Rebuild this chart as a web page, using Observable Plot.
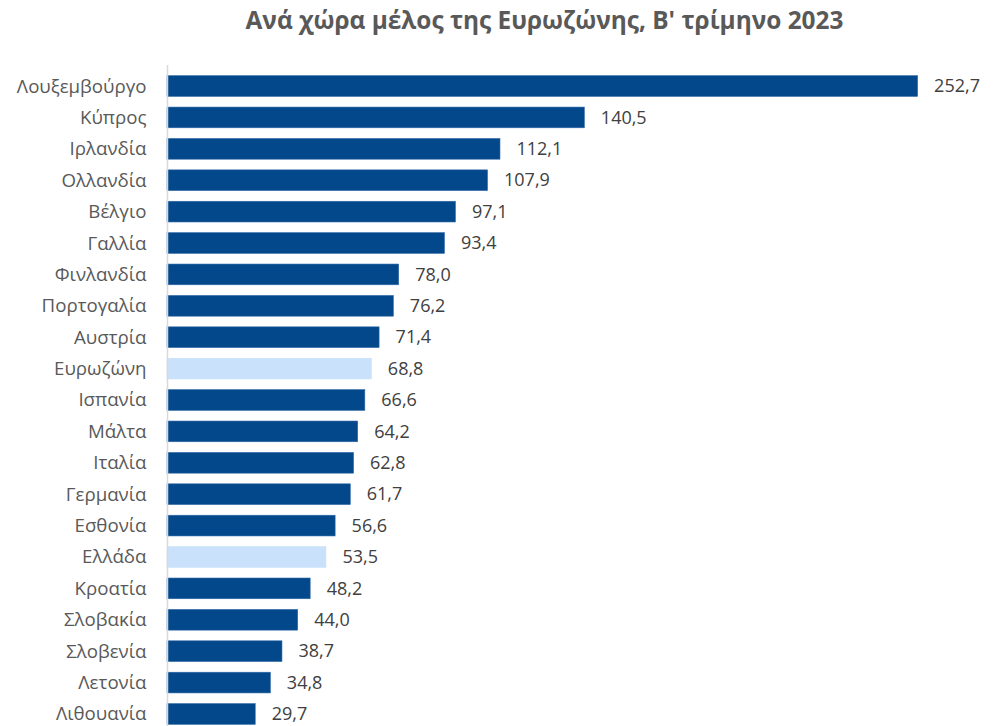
<!DOCTYPE html>
<html><head><meta charset="utf-8">
<script src="https://cdn.jsdelivr.net/npm/d3@7"></script>
<script src="https://cdn.jsdelivr.net/npm/@observablehq/plot@0.6"></script>
<style>
body{margin:0;background:#fff;overflow:hidden;}
#title{width:997px;height:50px;box-sizing:border-box;padding-top:5px;padding-left:92px;text-align:center;font-family:"Open Sans",sans-serif;font-weight:bold;font-size:24.4px;line-height:30px;color:#595959;}
</style></head>
<body>
<div id="title">Ανά χώρα μέλος της Ευρωζώνης, Β' τρίμηνο 2023</div>
<div id="chart"></div>
<script>
const countries = ["Λουξεμβούργο","Κύπρος","Ιρλανδία","Ολλανδία","Βέλγιο","Γαλλία","Φινλανδία","Πορτογαλία","Αυστρία","Ευρωζώνη","Ισπανία","Μάλτα","Ιταλία","Γερμανία","Εσθονία","Ελλάδα","Κροατία","Σλοβακία","Σλοβενία","Λετονία","Λιθουανία"];
const values = [252.7,140.5,112.1,107.9,97.1,93.4,78.0,76.2,71.4,68.8,66.6,64.2,62.8,61.7,56.6,53.5,48.2,44.0,38.7,34.8,29.7];
const highlighted = ["Ευρωζώνη","Ελλάδα"];
const data = countries.map((c,i)=>({country:c, value:values[i], hl: highlighted.includes(c)}));
const fmt = v => v.toFixed(1).replace(".", ",");
const chart = Plot.plot({
  width: 997,
  height: 685,
  marginTop: 15,
  marginBottom: 0,
  marginLeft: 167,
  marginRight: 28,
  style: {fontFamily: "'Open Sans', sans-serif", background: "#fff"},
  x: {domain: [0, 270], axis: null},
  y: {domain: countries, padding: 0.34, round: false, label: null, tickSize: 0, tickPadding: 21},
  marks: [
    Plot.barX(data, {y: "country", x: "value", fill: d => d.hl ? "#c9e1fa" : "#03488a", stroke: d => d.hl ? "#c9e1fa" : "#2f68a8", strokeWidth: 0.6}),
    Plot.ruleX([0], {stroke: "#d9d9d9", strokeWidth: 1.5}),
    Plot.text(data, {y: "country", x: "value", text: d => fmt(d.value), dx: 16, textAnchor: "start", fill: "#404040", fontSize: 18}),
    Plot.axisY({tickSize: 0, tickPadding: 21, fontSize: 18.7, color: "#595959", label: null})
  ]
});
document.getElementById("chart").appendChild(chart);
</script>
</body></html>
